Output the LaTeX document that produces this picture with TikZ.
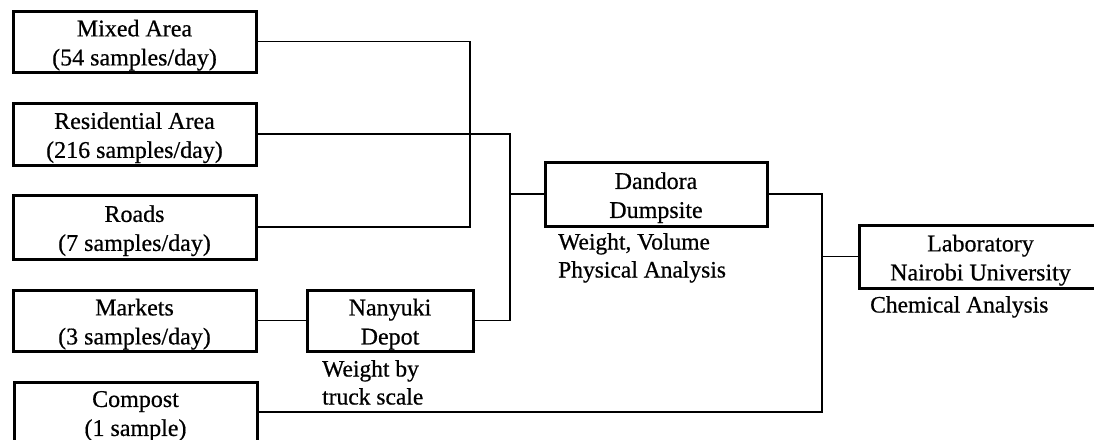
\documentclass[tikz,border=0pt]{standalone}
\usepackage{fontspec}
\setmainfont[FakeBold=0.6]{Liberation Serif}
\newcommand{\toprule}{\rule{0pt}{24pt}}
\begin{document}
\begin{tikzpicture}[x=1pt,y=-1pt,
  box/.style={draw, line width=3pt, inner sep=0pt, align=center, font=\fontsize{24}{29}\selectfont},
  conn/.style={line width=1.7pt},
  lbl/.style={inner sep=0pt, align=left, anchor=north west, font=\fontsize{23.5}{28}\selectfont}]
\useasboundingbox (0,0) rectangle (1094,439);
\clip (0,0) rectangle (1094,439);
% source boxes
\node[box, minimum width=243pt, minimum height=61pt] (mixed) at (134.5,41.5) {\toprule Mixed Area\\(54 samples/day)};
\node[box, minimum width=243pt, minimum height=62pt] (resid) at (134.5,134) {\toprule Residential Area\\(216 samples/day)};
\node[box, minimum width=243pt, minimum height=64pt] (roads) at (134.5,227) {\toprule Roads\\(7 samples/day)};
\node[box, minimum width=243pt, minimum height=61pt] (markets) at (134.5,320.5) {\toprule Markets\\(3 samples/day)};
\node[box, minimum width=243pt, minimum height=58pt] (compost) at (135.5,412) {\toprule Compost\\(1 sample)};
% intermediate
\node[box, minimum width=166pt, minimum height=61pt] (nanyuki) at (390,320.5) {\toprule Nanyuki\\Depot};
\node[box, minimum width=222pt, minimum height=64pt] (dandora) at (656,194) {\toprule Dandora\\Dumpsite};
\node[box, anchor=west, minimum width=242pt, minimum height=63pt] (lab) at (858,256.5) {\toprule Laboratory\\Nairobi University};
% labels
\node[lbl] (dlbl) at (558,233) {Weight, Volume\\Physical Analysis};
\node[lbl] (nlbl) at (322,360) {Weight by\\truck scale};
\node[lbl] (llbl) at (870,296) {Chemical Analysis};
% junctions
\coordinate (j1) at (470,100);
\coordinate (j2) at (510,194);
\coordinate (j3) at (822,256.5);
% connectors
\draw[conn] (mixed.east) -| (j1) |- (roads.east);
\draw[conn] (resid.east) -| (j2) |- (nanyuki.east);
\draw[conn] (j2) -- (dandora.west);
\draw[conn] (markets.east) -- (nanyuki.west);
\draw[conn] (dandora.east) -| (j3) |- (compost.east);
\draw[conn] (j3) -- (lab.west);
\end{tikzpicture}
\end{document}
